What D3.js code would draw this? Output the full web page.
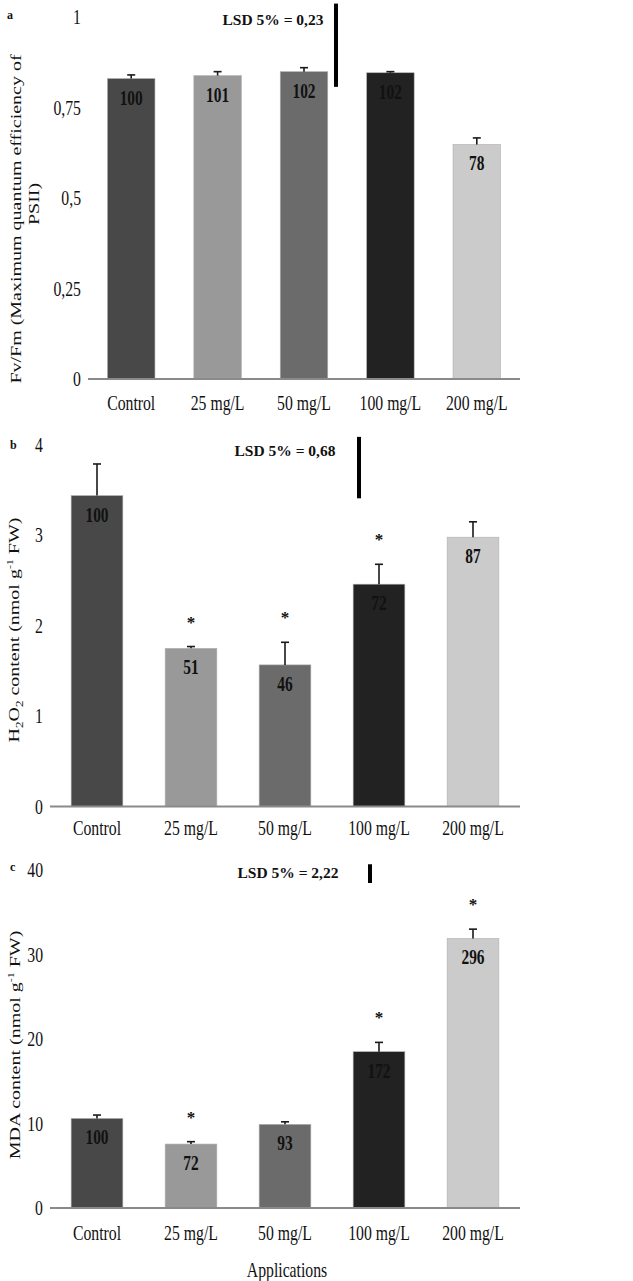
<!DOCTYPE html>
<html>
<head>
<meta charset="utf-8">
<script src="https://cdn.jsdelivr.net/npm/d3@7"></script>
<style>
  html, body { margin: 0; padding: 0; background: #fff; }
  svg { display: block; }
  text { font-family: "Liberation Serif", "Times New Roman", serif; fill: #111; }
</style>
</head>
<body>
<svg id="chart" width="633" height="1281"></svg>
<script>
// ---------------- DATA ----------------
const categories = ["Control", "25 mg/L", "50 mg/L", "100 mg/L", "200 mg/L"];

// Panel a: Fv/Fm
const fvfmValues = [0.830, 0.838, 0.849, 0.846, 0.648];
const fvfmErrors = [0.010, 0.011, 0.011, 0.003, 0.018];
const fvfmPercent = [100, 101, 102, 102, 78];
const fvfmSignif = [false, false, false, false, false];
const fvfmTicks = [0, 0.25, 0.5, 0.75, 1];
const fvfmTickLabels = ["0", "0,25", "0,5", "0,75", "1"];
const fvfmLSD = 0.23;
const fvfmLSDLabel = "LSD 5% = 0,23";

// Panel b: H2O2 content
const h2o2Values = [3.44, 1.75, 1.567, 2.46, 2.98];
const h2o2Errors = [0.35, 0.02, 0.25, 0.22, 0.17];
const h2o2Percent = [100, 51, 46, 72, 87];
const h2o2Signif = [false, true, true, true, false];
const h2o2Ticks = [0, 1, 2, 3, 4];
const h2o2TickLabels = ["0", "1", "2", "3", "4"];
const h2o2LSD = 0.68;
const h2o2LSDLabel = "LSD 5% = 0,68";

// Panel c: MDA content
const mdaValues = [10.6, 7.57, 9.9, 18.5, 31.9];
const mdaErrors = [0.4, 0.28, 0.3, 1.1, 1.1];
const mdaPercent = [100, 72, 93, 172, 296];
const mdaSignif = [false, true, false, true, true];
const mdaTicks = [0, 10, 20, 30, 40];
const mdaTickLabels = ["0", "10", "20", "30", "40"];
const mdaLSD = 2.22;
const mdaLSDLabel = "LSD 5% = 2,22";

const xAxisTitle = "Applications";

// ---------------- STYLE / LAYOUT ----------------
const barColors = ["#484848", "#999999", "#6b6b6b", "#222222", "#cbcbcb"];
const SX = 0.75; // horizontal compression of the original figure's text

const panels = [
  { letter: "a", values: fvfmValues, errors: fvfmErrors, pct: fvfmPercent, sig: fvfmSignif,
    ticks: fvfmTicks, tickLabels: fvfmTickLabels, lsd: fvfmLSD, lsdLabel: fvfmLSDLabel,
    domainMax: 1, left: 88, right: 520, y0: 379, y1: 17,
    lsdBase: 0.807, lsdX: 336, lsdTextX: 273, lsdTextY: 25,
    letterPos: [7, 19], xLabelY: 410,
    title: [{ parts: [["Fv/Fm (Maximum quantum efficiency of"]], x: 21, y: 219 },
            { parts: [["PSII)"]], x: 39, y: 204 }] },
  { letter: "b", values: h2o2Values, errors: h2o2Errors, pct: h2o2Percent, sig: h2o2Signif,
    ticks: h2o2Ticks, tickLabels: h2o2TickLabels, lsd: h2o2LSD, lsdLabel: h2o2LSDLabel,
    domainMax: 4, left: 50, right: 520, y0: 806.5, y1: 445,
    lsdBase: 3.41, lsdX: 359, lsdTextX: 285, lsdTextY: 456,
    letterPos: [10, 449], xLabelY: 835,
    title: [{ parts: [["H"], ["2", "sub"], ["O"], ["2", "sub"], [" content (nmol g"], ["-1", "sup"], [" FW)"]], x: 19, y: 630 }] },
  { letter: "c", values: mdaValues, errors: mdaErrors, pct: mdaPercent, sig: mdaSignif,
    ticks: mdaTicks, tickLabels: mdaTickLabels, lsd: mdaLSD, lsdLabel: mdaLSDLabel,
    domainMax: 40, left: 50, right: 520, y0: 1208, y1: 870,
    lsdBase: 38.46, lsdX: 370, lsdTextX: 288, lsdTextY: 878,
    letterPos: [10, 871], xLabelY: 1240,
    title: [{ parts: [["MDA content (nmol g"], ["-1", "sup"], [" FW)"]], x: 20, y: 1045 }] }
];

const svg = d3.select("#chart");

function ctext(g, x, y, str, size, anchor, weight, sx) {
  return g.append("text")
    .attr("transform", `translate(${x},${y}) scale(${sx},1)`)
    .attr("text-anchor", anchor)
    .attr("font-size", size)
    .attr("font-weight", weight)
    .text(str);
}

panels.forEach(p => {
  const g = svg.append("g");
  const x = d3.scaleBand().domain(categories).range([p.left, p.right]).paddingInner(0.45).paddingOuter(0.225);
  const y = d3.scaleLinear().domain([0, p.domainMax]).range([p.y0, p.y1]);
  const data = categories.map((c, i) => ({ c, v: p.values[i], e: p.errors[i], pct: p.pct[i], sig: p.sig[i], col: barColors[i] }));

  // bars
  g.selectAll("rect.bar").data(data).join("rect")
    .attr("class", "bar")
    .attr("x", d => x(d.c))
    .attr("width", x.bandwidth())
    .attr("y", d => y(d.v))
    .attr("height", d => y(0) - y(d.v))
    .attr("fill", d => d.col)
    .attr("stroke", "#b0b0b0")
    .attr("stroke-width", 0.6);

  // error bars (upper only)
  const eg = g.selectAll("g.err").data(data).join("g").attr("class", "err");
  eg.append("line")
    .attr("x1", d => x(d.c) + x.bandwidth() / 2).attr("x2", d => x(d.c) + x.bandwidth() / 2)
    .attr("y1", d => y(d.v)).attr("y2", d => y(d.v + d.e))
    .attr("stroke", "#1a1a1a").attr("stroke-width", 1.6);
  eg.append("line")
    .attr("x1", d => x(d.c) + x.bandwidth() / 2 - 4).attr("x2", d => x(d.c) + x.bandwidth() / 2 + 4)
    .attr("y1", d => y(d.v + d.e)).attr("y2", d => y(d.v + d.e))
    .attr("stroke", "#1a1a1a").attr("stroke-width", 1.6);

  // percentage labels
  data.forEach(d => {
    ctext(g, x(d.c) + x.bandwidth() / 2, y(d.v) + 26, d.pct, 20, "middle", "bold", 0.77);
    if (d.sig) {
      ctext(g, x(d.c) + x.bandwidth() / 2, y(d.v + d.e) - 19, "*", 17, "middle", "bold", 1);
    }
  });

  // x axis baseline
  g.append("line")
    .attr("x1", p.left).attr("x2", p.right)
    .attr("y1", y(0)).attr("y2", y(0))
    .attr("stroke", "#8a8a8a").attr("stroke-width", 2.2);

  // x tick labels
  categories.forEach(c => {
    ctext(g, x(c) + x.bandwidth() / 2, p.xLabelY, c, 21, "middle", "normal", SX);
  });

  // y tick labels
  p.ticks.forEach((t, i) => {
    ctext(g, p.left - 7, y(t) + 7, p.tickLabels[i], 21, "end", "normal", SX);
  });

  // LSD bar and label
  g.append("line")
    .attr("x1", p.lsdX).attr("x2", p.lsdX)
    .attr("y1", y(p.lsdBase)).attr("y2", y(p.lsdBase + p.lsd))
    .attr("stroke", "#000").attr("stroke-width", 4);
  ctext(g, p.lsdTextX, p.lsdTextY, p.lsdLabel, 15.5, "middle", "bold", 1);

  // panel letter
  g.append("text")
    .attr("x", p.letterPos[0]).attr("y", p.letterPos[1])
    .attr("font-family", "Liberation Sans, Arial, sans-serif")
    .attr("font-weight", "bold").attr("font-size", 12)
    .text(p.letter);

  // y axis title(s)
  p.title.forEach(t => {
    const tx = g.append("text")
      .attr("transform", `translate(${t.x},${t.y}) rotate(-90) scale(1,${SX})`)
      .attr("text-anchor", "middle")
      .attr("font-size", 20);
    t.parts.forEach(([s, kind]) => {
      const ts = tx.append("tspan").text(s);
      if (kind === "sub") { ts.attr("font-size", 13).attr("dy", 5); }
      else if (kind === "sup") { ts.attr("font-size", 12).attr("dy", -8); }
      else { ts.attr("dy", 0); }
    });
    // reset baseline after shifted tspans
    let shift = 0;
    tx.selectAll("tspan").each(function(_, i) {
      const kind = t.parts[i][1];
      if (kind === "sub") { shift = 5; }
      else if (kind === "sup") { shift = -8; }
      else if (shift !== 0) { d3.select(this).attr("dy", -shift); shift = 0; }
    });
  });
});

// overall x axis title
ctext(svg, 287, 1277, xAxisTitle, 21, "middle", "normal", SX);
</script>
</body>
</html>
